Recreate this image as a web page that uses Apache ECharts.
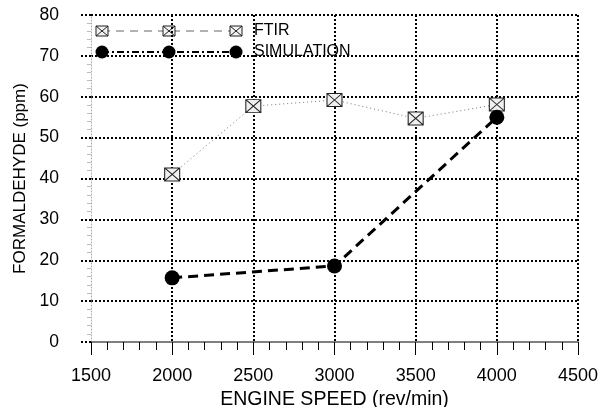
<!DOCTYPE html>
<html>
<head>
<meta charset="utf-8">
<script src="https://cdn.jsdelivr.net/npm/echarts@6/dist/echarts.min.js"></script>
<style>
  html, body { margin: 0; padding: 0; background: #fff; }
  #chart { width: 600px; height: 407px; }
</style>
</head>
<body>
<div id="chart"></div>
<script>
// data
var ftirSpeed = [2000, 2500, 3000, 3500, 4000];
var ftirValues = [41.0, 57.7, 59.2, 54.7, 58.1];
var simSpeed = [2000, 3000, 4000];
var simValues = [15.7, 18.6, 55.0];
var legendNames = ['FTIR', 'SIMULATION'];

var FONT = '"Liberation Sans", Arial, sans-serif';
var boxX = 'path://M0,0L14,0L14,12L0,12Z M0,0L14,12 M14,0L0,12';

function pairs(xs, ys) {
    return xs.map(function (x, i) { return [x, ys[i]]; });
}

// legend sample: a line with three markers, then the name
function legendRow(y, name, lineStyle, marker) {
    var els = [{
        type: 'line',
        shape: { x1: 102, y1: y, x2: 236, y2: y },
        style: lineStyle
    }];
    [102, 169, 236].forEach(function (cx) {
        if (marker === 'box') {
            els.push({ type: 'rect', shape: { x: cx - 6, y: y - 5, width: 12, height: 10 },
                style: { fill: '#f2f2f2', stroke: '#222', lineWidth: 1 } });
            els.push({ type: 'line', shape: { x1: cx - 6, y1: y - 5, x2: cx + 6, y2: y + 5 },
                style: { stroke: '#222', lineWidth: 1 } });
            els.push({ type: 'line', shape: { x1: cx + 6, y1: y - 5, x2: cx - 6, y2: y + 5 },
                style: { stroke: '#222', lineWidth: 1 } });
        } else {
            els.push({ type: 'circle', shape: { cx: cx, cy: y, r: 6.5 }, style: { fill: '#000' } });
        }
    });
    els.push({
        type: 'text', x: 254, y: y,
        style: { text: name, font: '16px ' + FONT, fill: '#000', textVerticalAlign: 'middle' }
    });
    return els;
}

var gridColorsX = ['rgba(0,0,0,0)', '#000', '#000', '#000', '#000', '#000', '#000'];
var gridColorsY = ['rgba(0,0,0,0)', '#000', '#000', '#000', '#000', '#000', '#000', '#000', '#000'];

var chart = echarts.init(document.getElementById('chart'));
chart.setOption({
    backgroundColor: '#fff',
    animation: false,
    grid: { left: 91, right: 22, top: 15, bottom: 65, outerBoundsMode: 'none', containLabel: false },
    xAxis: {
        type: 'value',
        min: 1500, max: 4500, interval: 500,
        name: 'ENGINE SPEED (rev/min)',
        nameLocation: 'middle',
        nameGap: 46,
        nameTextStyle: { fontFamily: FONT, fontSize: 19.5, color: '#000' },
        axisLine: { show: true, onZero: false, lineStyle: { color: '#555', width: 1.5 } },
        axisTick: { show: true, inside: false, length: 13, lineStyle: { color: '#000', width: 1 } },
        minorTick: { show: true, splitNumber: 5, length: 8, lineStyle: { color: '#000', width: 1 } },
        axisLabel: { margin: 25, fontFamily: FONT, fontSize: 18, color: '#000',
            formatter: function (v) { return String(v); } },
        splitLine: { show: true, lineStyle: { color: gridColorsX, width: 2, type: [2, 2] } }
    },
    yAxis: {
        type: 'value',
        min: 0, max: 80, interval: 10,
        name: 'FORMALDEHYDE (ppm)',
        nameLocation: 'middle',
        nameGap: 60,
        nameTextStyle: { fontFamily: FONT, fontSize: 17, color: '#000' },
        axisLine: { show: true, lineStyle: { color: '#aaa', width: 1, type: [1, 2] } },
        axisTick: { show: true, length: 12, lineStyle: { color: '#000', width: 2, type: [2, 2] } },
        minorTick: { show: true, splitNumber: 5, length: 4, lineStyle: { color: '#bbb', width: 1 } },
        axisLabel: { margin: 32, fontFamily: FONT, fontSize: 17.5, color: '#000' },
        splitLine: { show: true, lineStyle: { color: gridColorsY, width: 2, type: [2, 2] } }
    },
    series: [
        {
            name: legendNames[0],
            type: 'line',
            data: pairs(ftirSpeed, ftirValues),
            symbol: boxX,
            symbolSize: [15, 13],
            itemStyle: { color: '#f0f0f0', borderColor: '#222', borderWidth: 1 },
            lineStyle: { color: '#777', width: 1, type: [1, 3] },
            z: 3
        },
        {
            name: legendNames[1],
            type: 'line',
            data: pairs(simSpeed, simValues),
            symbol: 'circle',
            symbolSize: 15,
            itemStyle: { color: '#000' },
            lineStyle: { color: '#000', width: 3, type: [10, 6] },
            z: 4
        }
    ],
    graphic: legendRow(31, legendNames[0], { stroke: '#666', lineWidth: 1, lineDash: [8, 6] }, 'box')
        .concat(legendRow(52, legendNames[1], { stroke: '#000', lineWidth: 2, lineDash: [7, 3, 2, 3] }, 'dot'))
});
</script>
</body>
</html>
